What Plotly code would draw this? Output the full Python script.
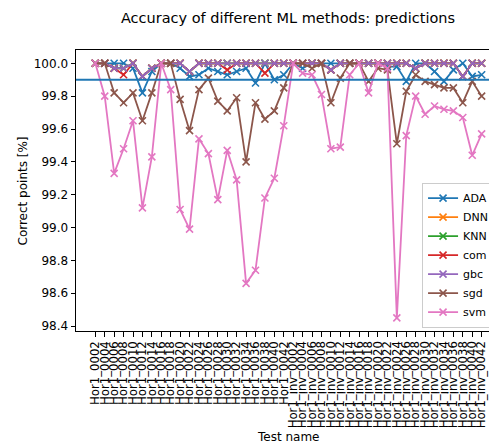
import plotly.graph_objects as go

tests = [f"Hor1_{n:04d}" for n in range(2, 43, 2)] + [f"Hor1_inv_{n:04d}" for n in range(2, 43, 2)]

ada = [100.0, 100.0, 100.0, 100.0, 99.97, 99.82, 99.95, 100.0, 100.0, 99.97, 99.92,
       99.93, 99.97, 99.95, 99.93, 99.95, 99.97, 99.88, 100.0, 99.90, 99.93,
       100.0, 99.97, 100.0, 100.0, 100.0, 100.0, 100.0, 100.0, 100.0, 100.0,
       99.98, 99.98, 99.89, 100.0, 100.0, 99.95, 99.89, 99.96, 100.0, 99.92, 99.93]

gbc = [100.0, 100.0, 99.97, 99.97, 100.0, 99.92, 99.97, 100.0, 100.0, 100.0, 99.95,
       100.0, 100.0, 100.0, 100.0, 100.0, 100.0, 100.0, 100.0, 100.0, 100.0,
       100.0, 100.0, 100.0, 100.0, 99.96, 100.0, 100.0, 100.0, 100.0, 100.0,
       100.0, 100.0, 100.0, 99.97, 100.0, 100.0, 100.0, 100.0, 99.92, 100.0, 100.0]

dnn = list(gbc)
knn = list(gbc)

com = [100.0, 100.0, 99.97, 99.93, 100.0, 99.92, 99.97, 100.0, 100.0, 100.0, 99.95,
       100.0, 100.0, 100.0, 99.96, 100.0, 100.0, 100.0, 99.94, 100.0, 100.0,
       100.0, 100.0, 100.0, 100.0, 99.96, 100.0, 100.0, 100.0, 100.0, 100.0,
       100.0, 100.0, 100.0, 99.97, 100.0, 100.0, 100.0, 100.0, 99.92, 100.0, 100.0]

sgd = [100.0, 100.0, 99.82, 99.76, 99.82, 99.65, 99.82, 100.0, 100.0, 99.78, 99.59,
       99.84, 99.91, 99.77, 99.71, 99.79, 99.40, 99.76, 99.66, 99.71, 99.85,
       100.0, 100.0, 99.97, 100.0, 99.76, 99.91, 100.0, 100.0, 99.89, 99.97,
       99.96, 99.51, 99.83, 99.93, 99.89, 99.87, 99.85, 99.85, 99.76, 99.89, 99.80]

svm = [100.0, 99.80, 99.33, 99.48, 99.65, 99.12, 99.43, 100.0, 99.84, 99.11, 98.99,
       99.54, 99.45, 99.17, 99.47, 99.29, 98.66, 98.74, 99.18, 99.30, 99.62,
       100.0, 99.94, 99.93, 99.81, 99.48, 99.49, 99.93, 100.0, 99.82, 100.0,
       99.97, 98.45, 99.56, 99.80, 99.69, 99.74, 99.72, 99.71, 99.67, 99.44, 99.57]

threshold = 99.9

series = [("ADA", ada, "#1f77b4"), ("DNN", dnn, "#ff7f0e"), ("KNN", knn, "#2ca02c"),
          ("com", com, "#d62728"), ("gbc", gbc, "#9467bd"), ("sgd", sgd, "#8c564b"),
          ("svm", svm, "#e377c2")]

FONT = "DejaVu Sans"
# page body has an 8px margin; figure is sized/placed to compensate
W, H = 489, 439
L, T = 68, 42
PB = 322.7  # plot bottom (figure px)
PW = W - L

fig = go.Figure()
for name, vals, col in series:
    fig.add_trace(go.Scatter(
        x=tests, y=vals, name=name, mode="lines+markers",
        line=dict(color=col, width=1.8),
        marker=dict(symbol="x-thin", size=7, color=col, line=dict(color=col, width=1.6)),
    ))

fig.add_shape(type="line", xref="paper", yref="y", x0=0, x1=1, y0=threshold, y1=threshold,
              line=dict(color="#1f77b4", width=1.8), layer="above")

fig.update_layout(
    width=W, height=H,
    margin=dict(l=L, r=0, t=T, b=H - PB),
    paper_bgcolor="white", plot_bgcolor="white",
    font=dict(family=FONT, size=12, color="black"),
    title=dict(text="Accuracy of different ML methods: predictions",
               font=dict(family=FONT, size=14.5, color="black"),
               x=(280 - L) / PW, xref="paper", xanchor="center",
               y=1 - 9.5 / H, yref="container", yanchor="middle"),
    showlegend=True,
    legend=dict(x=0.993, y=0.012, xanchor="right", yanchor="bottom",
                bgcolor="rgba(255,255,255,0.8)", bordercolor="#cccccc", borderwidth=1,
                font=dict(family=FONT, size=11), itemwidth=30, tracegroupgap=0),
    annotations=[
        dict(text="Correct points [%]", xref="paper", yref="paper", x=(14 - L) / PW, y=0.5,
             textangle=-90, showarrow=False, xanchor="center", yanchor="middle",
             font=dict(family=FONT, size=12)),
        dict(text="Test name", xref="paper", yref="paper", x=(280 - L) / PW,
             y=(PB - 428.5) / (PB - T), showarrow=False, xanchor="center", yanchor="middle",
             font=dict(family=FONT, size=12)),
    ],
)

fig.update_xaxes(type="category", range=[-2.05, 42.63], tickangle=-90,
                 tickmode="linear", tick0=0, dtick=1,
                 showline=True, mirror=True, linecolor="black", linewidth=1,
                 ticks="outside", ticklen=4.5, tickcolor="black", showgrid=False,
                 automargin=False, tickfont=dict(family=FONT, size=11.7))
fig.update_yaxes(range=[98.370, 100.081], tick0=98.4, dtick=0.2, tickformat=".1f",
                 showline=True, mirror=False, linecolor="black", linewidth=1,
                 ticks="outside", ticklen=4.5, tickcolor="black", showgrid=False,
                 zeroline=False, automargin=False, tickfont=dict(family=FONT, size=12))

fig.write_html("out.html")
